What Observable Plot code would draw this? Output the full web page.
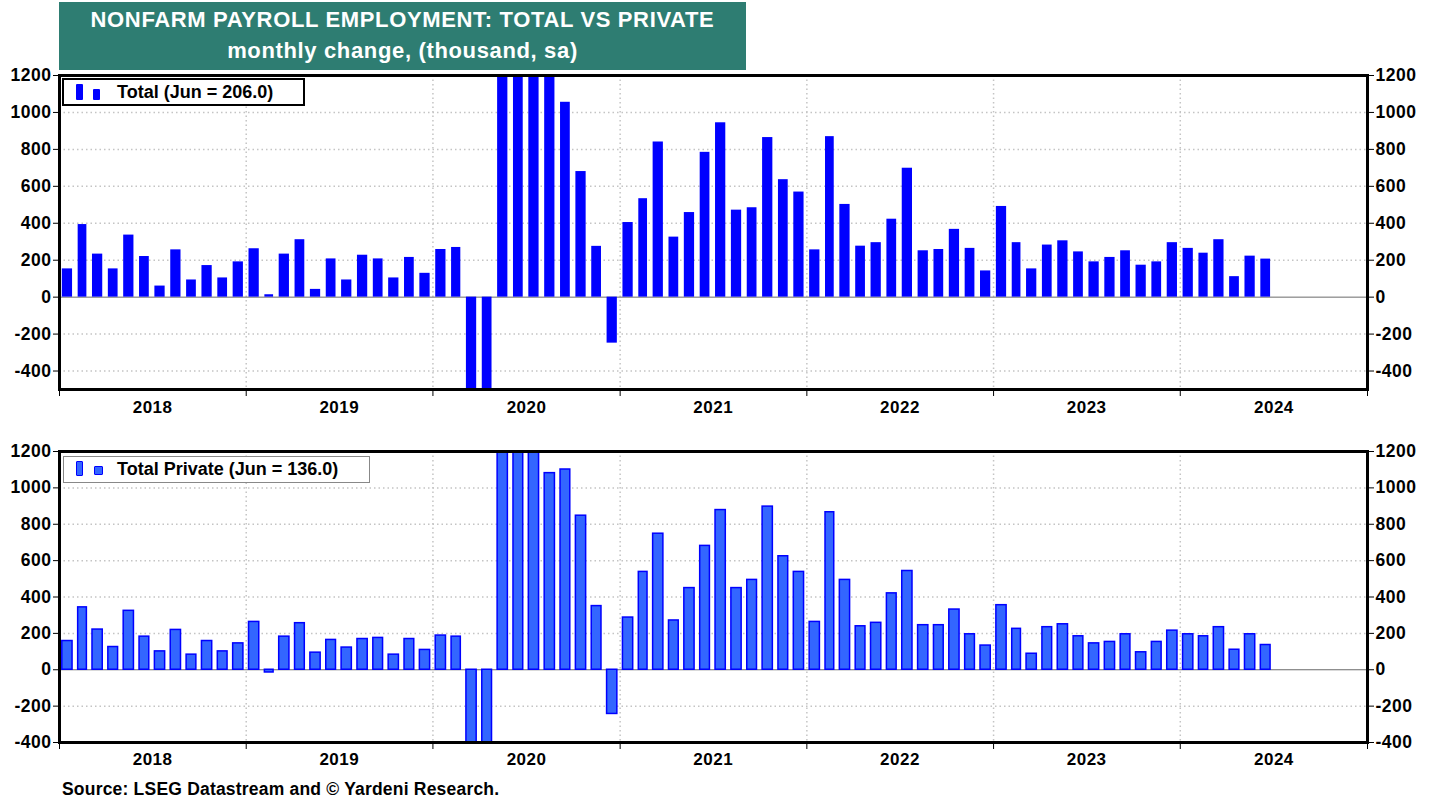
<!DOCTYPE html>
<html>
<head>
<meta charset="utf-8">
<script src="https://cdn.jsdelivr.net/npm/d3@7"></script>
<script src="https://cdn.jsdelivr.net/npm/@observablehq/plot@0.6"></script>
<style>
  body { margin: 0; background: #fff; }
  #root { position: relative; width: 1438px; height: 804px; font-family: "Liberation Sans", Arial, sans-serif; font-weight: bold; color: #000; }
  .titlebox { position: absolute; left: 59px; top: 2px; width: 687px; height: 68px; background: #2e7d72; color: #fff; text-align: center; font-size: 22px; letter-spacing: 0.65px; }
  .titlebox .l1 { position: absolute; left: 0; right: 0; top: 5px; }
  .titlebox .l2 { position: absolute; left: 0; right: 0; top: 36px; }
  .panel { position: absolute; left: 0; }
  .legend { position: absolute; background: #fff; box-sizing: border-box; font-size: 18px; }
  .legend .sym { position: absolute; }
  .legend .txt { position: absolute; white-space: nowrap; }
  .source { position: absolute; left: 62px; top: 779px; font-size: 17.5px; letter-spacing: 0.2px; white-space: nowrap; }
  svg text { letter-spacing: 0.5px; }
</style>
</head>
<body>
<div id="root">
  <div class="titlebox"><div class="l1">NONFARM PAYROLL EMPLOYMENT: TOTAL VS PRIVATE</div><div class="l2">monthly change, (thousand, sa)</div></div>
  <div id="p1" class="panel" style="top:70px"></div>
  <div id="p2" class="panel" style="top:446px"></div>
  <div class="legend" style="left:62px;top:78px;width:243px;height:28px;border:2px solid #000;">
    <div class="sym" style="left:12px;top:4px;width:7px;height:16px;background:#0000ff;border-radius:1px;"></div>
    <div class="sym" style="left:29px;top:9px;width:7px;height:11px;background:#0000ff;border-radius:1px;"></div>
    <div class="txt" style="left:53px;top:2px;">Total (Jun = 206.0)</div>
  </div>
  <div class="legend" style="left:63px;top:456px;width:307px;height:27px;border:1.5px solid #888;">
    <div class="sym" style="left:12px;top:4px;width:5px;height:13px;background:#3366ff;border:1.5px solid #0000ff;border-radius:1px;"></div>
    <div class="sym" style="left:30px;top:9px;width:7px;height:7px;background:#3366ff;border:1.5px solid #0000ff;border-radius:1px;"></div>
    <div class="txt" style="left:53px;top:1.5px;">Total Private (Jun = 136.0)</div>
  </div>
  <div class="source">Source: LSEG Datastream and © Yardeni Research.</div>
</div>
<script>
// ---- data (thousands, monthly change, Jan 2018 - Jun 2024) ----
const startMonth = "2018-01-01";
const years = [2018, 2019, 2020, 2021, 2022, 2023, 2024];

const totalValues = [
  153, 393, 233, 153, 336, 220, 60, 256, 93, 171, 104, 191,       // 2018
  262, 13, 233, 311, 42, 207, 93, 227, 207, 104, 215, 129,        // 2019
  258, 269, -1400, -20500, 2800, 4800, 1700, 1500, 1055, 680, 275, -249, // 2020
  404, 533, 840, 325, 458, 784, 944, 471, 484, 864, 636, 569,     // 2021
  256, 869, 502, 276, 295, 422, 698, 251, 258, 367, 264, 142,     // 2022
  491, 295, 153, 282, 305, 245, 191, 215, 251, 173, 191, 295,     // 2023
  264, 238, 311, 111, 222, 206                                    // 2024
];

const privateValues = [
  158, 343, 221, 125, 324, 182, 101, 219, 83, 158, 101, 145,      // 2018
  263, -15, 182, 256, 94, 164, 122, 169, 175, 83, 169, 109,       // 2019
  188, 182, -1300, -19800, 3200, 4300, 1400, 1081, 1101, 847, 350, -243, // 2020
  287, 538, 748, 271, 449, 681, 878, 449, 494, 897, 624, 538,     // 2021
  263, 866, 494, 239, 258, 420, 543, 245, 245, 331, 195, 133,     // 2022
  355, 225, 88, 234, 250, 184, 145, 153, 195, 96, 153, 215,       // 2023
  195, 184, 234, 110, 195, 136                                    // 2024
];

const yTicks = [-400, -200, 0, 200, 400, 600, 800, 1000, 1200];

// ---- derived tables ----
const start = new Date(startMonth);
const yearStarts = years.map(y => new Date(Date.UTC(y, 0, 1))).concat([new Date(Date.UTC(years[years.length - 1] + 1, 0, 1))]);
const yearMids = years.map(y => new Date(Date.UTC(y, 6, 2)));
const xDomain = [yearStarts[0], yearStarts[yearStarts.length - 1]];

function table(values) {
  return values.map((v, i) => {
    const m = d3.utcMonth.offset(start, i);
    return { x1: m, x2: d3.utcMonth.offset(m, 1), y: v };
  });
}

function panel(values, yDomain, barStyle, height, mb, labelDy) {
  return Plot.plot({
    width: 1438,
    height,
    marginLeft: 59,
    marginRight: 71,
    marginTop: 5,
    marginBottom: mb,
    style: { fontFamily: "'Liberation Sans', Arial, sans-serif", fontSize: "17.5px", fontWeight: "bold", color: "#000", background: "transparent", overflow: "visible" },
    x: { type: "utc", domain: xDomain, ticks: yearStarts, tickSize: 7, tickFormat: () => "", label: null },
    y: { domain: yDomain, axis: "both", ticks: yTicks.filter(t => t >= yDomain[0]), tickSize: 6, tickPadding: 2, tickFormat: d => String(d), label: null },
    marks: [
      Plot.ruleY(yTicks.filter(t => t !== 0 && t > yDomain[0] && t < yDomain[1]), { stroke: "#c4c4c4", strokeWidth: 1.5, strokeDasharray: "1.5,3" }),
      Plot.ruleX(yearStarts.slice(1, -1), { stroke: "#c4c4c4", strokeWidth: 1.5, strokeDasharray: "1.5,3" }),
      Plot.ruleY([0], { stroke: "#6a6a6a", strokeWidth: 1 }),
      Plot.rectY(table(values), { x1: "x1", x2: "x2", y: "y", insetLeft: 2.8, insetRight: 2.8, clip: true, ...barStyle }),
      Plot.text(yearMids, { x: d => d, text: d => String(d.getUTCFullYear()), frameAnchor: "bottom", dy: labelDy, fontSize: 17, fontWeight: "bold" }),
      Plot.frame({ stroke: "#000", strokeWidth: 3 })
    ]
  });
}

document.getElementById("p1").appendChild(
  panel(totalValues, [-500, 1200], { fill: "#0000ff" }, 351, 32, 23)
);
document.getElementById("p2").appendChild(
  panel(privateValues, [-400, 1200], { fill: "#3366ff", stroke: "#0000ff", strokeWidth: 1.5 }, 327, 31, 22)
);
</script>
</body>
</html>
